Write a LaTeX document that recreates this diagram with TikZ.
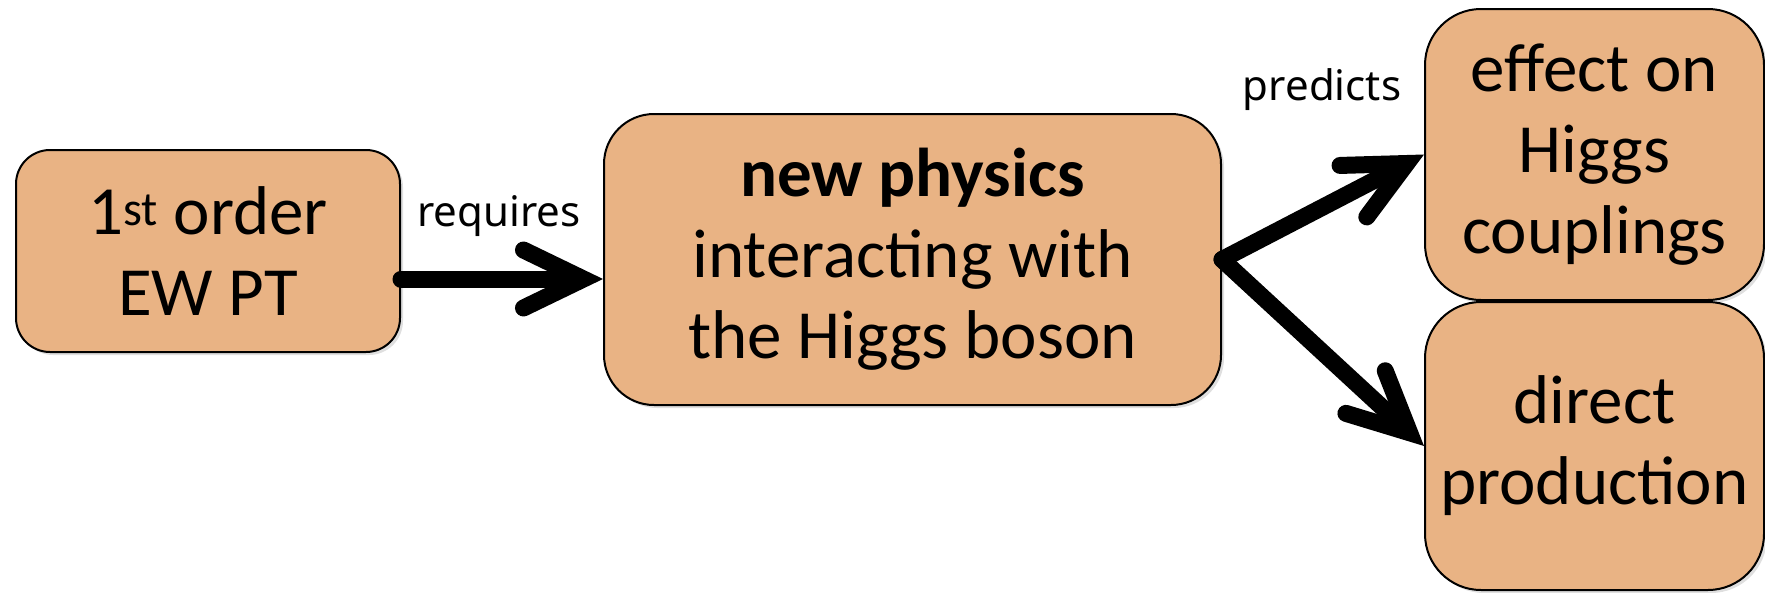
\documentclass[tikz,border=0pt]{standalone}
\usepackage{fontspec}
\setmainfont{Carlito}
\newfontfamily\labelfont{Noto Sans}
\usetikzlibrary{arrows.meta,shadows}
\definecolor{boxfill}{RGB}{233,179,132}
\tikzset{
  box/.style={draw=black, line width=2pt, fill=boxfill, align=center,
    inner sep=0pt, font=\fontsize{69}{81}\selectfont,
    drop shadow={opacity=0.25, shadow xshift=3pt, shadow yshift=-3pt}},
  bigarrow/.style={line width=17pt, line cap=round,
    -{Straight Barb[length=60pt, width=58pt, line cap=round, line join=miter]}},
  lbl/.style={font=\labelfont\fontsize{42}{46}\selectfont, inner sep=0pt}
}
\begin{document}
\begin{tikzpicture}[x=1pt, y=-1pt]
\useasboundingbox (0,0) rectangle (1765,592);
\node[box, minimum width=384pt, minimum height=202pt, rounded corners=34pt] (b1) at (208,251) {1\textsuperscript{st} order\\EW PT};
\node[box, minimum width=617pt, minimum height=291pt, rounded corners=50pt] (b2) at (912.5,259.5) {\textbf{new physics}\\interacting with\\the Higgs boson};
\node[box, minimum width=339pt, minimum height=291pt, rounded corners=56pt] (b3) at (1594.5,154.5) {effect on\\Higgs\\couplings};
\node[box, minimum width=339pt, minimum height=288pt, rounded corners=56pt] (b4) at (1594.5,446) {direct\\production};
\coordinate (a1) at (0,279);
\draw[bigarrow] (b1.east |- a1) -- (b2.west |- a1);
\draw[bigarrow] (b2.east) -- (b3.west);
\draw[bigarrow] (b2.east) -- (b4.west);
\node[lbl] (l1) at (499,216) {requires};
\node[lbl] (l2) at (1322,90) {predicts};
\end{tikzpicture}
\end{document}
